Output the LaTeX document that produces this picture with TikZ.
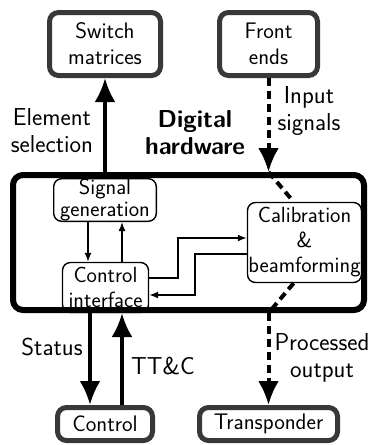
\documentclass[tikz,border=0pt]{standalone}
\usetikzlibrary{arrows.meta}
\begin{document}
\begin{tikzpicture}[x=1pt,y=-1pt,
  font=\fontsize{22.5}{26}\selectfont\sffamily,
  outerbox/.style={draw=black!78,line width=5pt,rounded corners=9pt,align=center,inner sep=0pt},
  innerbox/.style={draw,line width=1.4pt,rounded corners=8pt,align=center,inner sep=0pt},
  lbl/.style={align=center,inner sep=0pt,font=\fontsize{24.5}{27}\selectfont\sffamily},
  bigarrow/.style={line width=4pt,-{Latex[length=24pt,width=21pt]}},
  smallarrow/.style={line width=1.5pt,-{Latex[length=9pt,width=7pt]}},
  dashline/.style={line width=4pt,dash pattern=on 8pt off 5pt}]

\useasboundingbox (0,0) rectangle (369,445);

% outside blocks
\node[outerbox,minimum width=111pt,minimum height=63pt] (switch) at (105,44) {Switch\\matrices};
\node[outerbox,minimum width=98pt,minimum height=63pt] (front) at (268.5,44) {Front\\ends};
\node[outerbox,minimum width=95pt,minimum height=33pt] (control) at (105,424) {Control};
\node[outerbox,minimum width=138pt,minimum height=33pt] (transp) at (268.5,424) {Transponder};

% digital hardware
\node[draw,line width=6pt,rounded corners=10pt,minimum width=351pt,minimum height=135pt] (hw) at (188.5,242.5) {};
\node[lbl,font=\fontsize{24.5}{27}\selectfont\sffamily\bfseries] (hwlbl) at (195,133) {Digital\\hardware};

\node[innerbox,minimum width=102.6pt,minimum height=42.6pt,font=\fontsize{22}{22}\selectfont\sffamily] (siggen) at (105,200) {Signal\\generation};
\node[innerbox,minimum width=86pt,minimum height=50pt,font=\fontsize{22}{25}\selectfont\sffamily] (ctrlif) at (105.5,287.5) {Control\\interface};
\node[innerbox,minimum width=114pt,minimum height=80pt,font=\fontsize{22}{25}\selectfont\sffamily] (calib) at (304.5,242.5) {Calibration\\\&\\beamforming};

% inner links
\draw[smallarrow] ([xshift=-17pt]siggen.south) -- ([xshift=-17pt]siggen.south |- ctrlif.north);
\draw[smallarrow] ([xshift=17pt]siggen.south |- ctrlif.north) -- ([xshift=17pt]siggen.south);
\draw[smallarrow] (ctrlif.east |- 0,278) -| (178,238) -- (calib.west |- 0,238);
\draw[smallarrow] (calib.west |- 0,254) -| (195,295) -- (ctrlif.east |- 0,295);

% links to the outside
\draw[bigarrow] (hw.north -| switch.south) -- (switch.south);
\draw[bigarrow,dashline] (front.south) -- (front.south |- hw.north);
\draw[dashline] (front.south |- hw.north) -- (calib.105);
\draw[dashline] (calib.255) -- (transp.north |- hw.south);
\draw[bigarrow,dashline] (transp.north |- hw.south) -- (transp.north);
\draw[bigarrow] ([xshift=-15pt]control.north |- hw.south) -- ([xshift=-15pt]control.north);
\draw[bigarrow] ([xshift=17pt]control.north) -- ([xshift=17pt]control.north |- hw.south);

% labels
\node[lbl] (elemlbl) at (52,131) {Element\\selection};
\node[lbl] (inlbl) at (309,111) {Input\\signals};
\node[lbl] (statlbl) at (52,347) {Status};
\node[lbl] (ttclbl) at (163,366) {TT\&C};
\node[lbl] (proclbl) at (322,358) {Processed\\output};
\end{tikzpicture}
\end{document}
